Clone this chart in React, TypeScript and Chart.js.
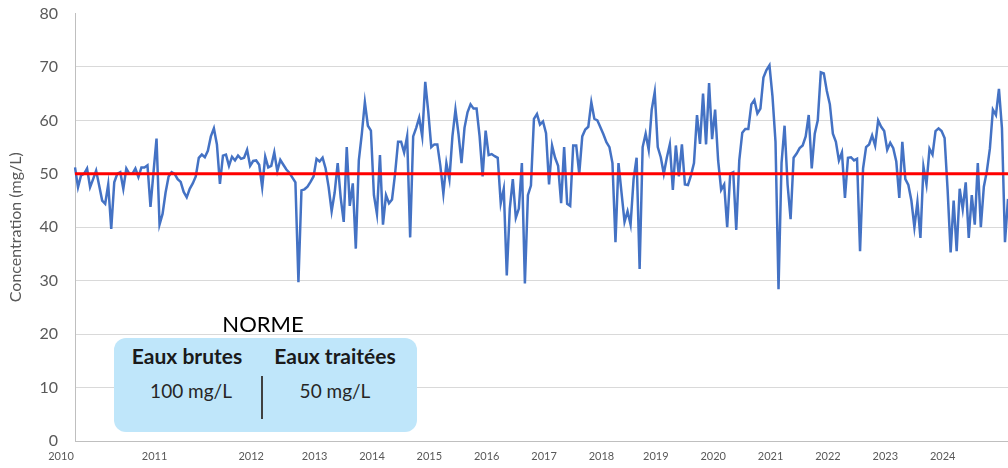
import React, { useEffect, useRef } from 'react';
import { Chart, registerables } from 'chart.js';

Chart.register(...registerables);

// ---- DATA ----
const years = ['2010', '2011', '2012', '2013', '2014', '2015', '2016', '2017', '2018', '2019', '2020', '2021', '2022', '2023', '2024'];

const y2010 = [51.2, 47.5, 49.7, 50, 51, 47.5, 49, 50.6, 47.8, 45, 44.4, 48, 39.7, 48.4, 50, 50.3, 47.2, 51, 50, 50, 51, 49.4, 51.2, 51.2, 51.6, 43.8, 50.3, 56.6, 40.5, 42.5, 46.5];
const y2011 = [49.5, 50.3, 50, 49, 48.5, 46.6, 45.6, 47.2, 48.2, 49.5, 53, 53.6, 53.1, 54.3, 57, 58.5, 55.5, 48.1, 53.4, 53.6, 51.5, 53.2, 52.5, 53.4, 52.8, 53, 54.5, 51.5, 52.4, 52.5, 51.7, 47.5];
const y2012 = [53.2, 51.2, 51.5, 54, 50.5, 52.6, 51.7, 50.8, 50.2, 49.3, 48.4, 29.7, 46.9, 47.1, 47.6, 48.5, 49.5, 52.8, 52.3, 53, 51];
const y2013 = [47.5, 43, 46.5, 52, 45.5, 41, 55, 44, 48.2, 36, 52.5, 57.5, 63.4, 59, 58.1, 46, 42.5, 53.5, 40.5];
const y2014 = [46, 44.5, 45.2, 50, 56, 56, 54, 57, 38.1, 57, 58.6, 60.5, 57, 67.2, 61.6, 55, 55.5, 55.5, 51.5];
const y2015 = [46.3, 52, 49, 57, 62, 57.5, 52, 58.6, 61.5, 63, 62.2, 62.2, 57, 49.5, 58.1, 53.5, 53.7, 53.3, 53];
const y2016 = [44.5, 47.2, 31, 43.5, 49, 41.8, 43.5, 52, 29.5, 46, 47.8, 60.3, 61.2, 59.2, 59.8, 57.6, 48, 55.3, 53];
const y2017 = [51.5, 44.5, 55, 44.4, 44, 55.3, 55.3, 50, 57, 58.3, 58.8, 63.4, 60.3, 60, 58.7, 57.4, 55.9, 55, 52];
const y2018 = [37.2, 52, 46.5, 41, 43, 40.5, 49, 53, 32.2, 55, 57.5, 54.5, 62, 65.3, 55, 53.1, 50, 53];
const y2019 = [55.5, 47, 55.3, 49.5, 55.5, 48, 47.9, 49.7, 52, 61, 55.6, 65, 55.5, 67, 56.5, 62, 52.5, 47, 48];
const y2020 = [40, 50, 50.3, 39.5, 52.5, 57.7, 58.4, 58.4, 63, 63.8, 61.3, 62.2, 68, 69.4, 70.3, 64.5, 56, 28.4, 52];
const y2021 = [59, 48, 41.5, 53, 53.8, 54.8, 55.3, 57, 61, 51, 57.5, 60, 69, 68.8, 65.5, 63, 57.5, 56, 52.5];
const y2022 = [54, 45.5, 53, 53.1, 52.5, 52.8, 35.5, 51, 55, 55.5, 57.2, 55.3, 60, 58.8, 58, 54.5, 55.8, 54.8, 52.3];
const y2023 = [45.5, 56, 49, 47.9, 45, 40, 44.7, 38, 51.3, 48, 54.7, 53.6, 58, 58.5, 58, 56.7, 47, 35.3, 45];
const y2024 = [35.5, 47.2, 43.4, 48.4, 38, 46, 40.5, 52, 40, 47.6, 50.5, 54.7, 62, 61, 65.9, 58.5, 37.2, 45.3];

const seriesByYear = [y2010, y2011, y2012, y2013, y2014, y2015, y2016, y2017, y2018, y2019, y2020, y2021, y2022, y2023, y2024];

const NORME_EAUX_TRAITEES = 50; // mg/L
const Y_MIN = 0;
const Y_MAX = 80;
const Y_STEP = 10;

const normeHeaders = ['Eaux brutes', 'Eaux traitées'];
const normeValues = ['100 mg/L', '50 mg/L'];

// Built from the arrays above
const values: number[] = seriesByYear.flat();
const labels: string[] = seriesByYear.flatMap((arr, k) => arr.map((_, j) => (j === 0 ? years[k] : '')));

const FONT = "Lato, 'Liberation Sans', sans-serif";

const normLinePlugin = {
  id: 'normLine',
  afterDatasetsDraw(chart: any) {
    const { ctx, chartArea, scales } = chart;
    const y = scales.y.getPixelForValue(NORME_EAUX_TRAITEES);
    ctx.save();
    ctx.strokeStyle = '#FF0000';
    ctx.lineWidth = 3;
    ctx.beginPath();
    ctx.moveTo(chartArea.left, y);
    ctx.lineTo(chartArea.right, y);
    ctx.stroke();
    ctx.restore();
  },
};

export default function App() {
  const canvasRef = useRef<HTMLCanvasElement | null>(null);

  useEffect(() => {
    document.body.style.margin = '0';
    const canvas = canvasRef.current;
    if (!canvas) return;
    const chart = new Chart(canvas, {
      type: 'line',
      data: {
        labels,
        datasets: [
          {
            label: 'Concentration',
            data: values,
            borderColor: '#4472C4',
            backgroundColor: '#4472C4',
            borderWidth: 2.5,
            pointRadius: 0,
            tension: 0,
            fill: false,
          },
        ],
      },
      options: {
        animation: false,
        responsive: true,
        maintainAspectRatio: false,
        layout: { padding: { top: 13.5, right: 0, bottom: 0, left: 0 } },
        plugins: {
          legend: { display: false },
          tooltip: { enabled: false },
        },
        scales: {
          x: {
            type: 'category',
            grid: { display: false, drawTicks: true, tickLength: 9, tickColor: 'rgba(0,0,0,0)' },
            border: { display: true, color: '#BFBFBF', width: 1 },
            ticks: {
              autoSkip: false,
              maxRotation: 0,
              minRotation: 0,
              padding: 0,
              labelOffset: -14,
              color: '#595959',
              font: { family: FONT, size: 11 },
            },
            afterFit(scale: any) {
              scale.height = 27;
            },
          },
          y: {
            min: Y_MIN,
            max: Y_MAX,
            ticks: {
              stepSize: Y_STEP,
              padding: 0,
              color: '#595959',
              font: { family: FONT, size: 16 },
            },
            grid: {
              drawTicks: true,
              tickLength: 17,
              tickColor: 'rgba(0,0,0,0)',
              lineWidth: 1,
              color: (c: any) => (c.tick && c.tick.value === Y_MAX ? 'rgba(0,0,0,0)' : '#D9D9D9'),
            },
            border: { display: true, color: '#BFBFBF', width: 1 },
            title: {
              display: true,
              text: 'Concentration (mg/L)',
              color: '#595959',
              font: { family: FONT, size: 16 },
              padding: { top: 6, bottom: 0 },
            },
            afterFit(scale: any) {
              scale.width = 75;
            },
          },
        },
      },
      plugins: [normLinePlugin],
    } as any);
    return () => {
      chart.destroy();
    };
  }, []);

  const headerStyle: React.CSSProperties = {
    position: 'absolute',
    width: 160,
    textAlign: 'center',
    fontFamily: FONT,
    fontWeight: 700,
    fontSize: 21,
    lineHeight: '21px',
    color: '#1A1A1A',
    whiteSpace: 'nowrap',
  };
  const valueStyle: React.CSSProperties = {
    position: 'absolute',
    width: 160,
    textAlign: 'center',
    fontFamily: FONT,
    fontSize: 19,
    lineHeight: '19px',
    color: '#262626',
    whiteSpace: 'nowrap',
  };

  return (
    <div style={{ position: 'relative', width: 1008, height: 468, background: '#FFFFFF', overflow: 'hidden' }}>
      <canvas ref={canvasRef} />
      <div
        style={{
          position: 'absolute',
          left: 183,
          top: 313,
          width: 160,
          textAlign: 'center',
          fontFamily: FONT,
          fontSize: 22,
          lineHeight: '22px',
          color: '#000000',
        }}
      >
        NORME
      </div>
      <div
        style={{
          position: 'absolute',
          left: 114,
          top: 338,
          width: 303,
          height: 94,
          borderRadius: 12,
          background: '#BFE6FA',
        }}
      />
      <div style={{ ...headerStyle, left: 187 - 80, top: 345 }}>{normeHeaders[0]}</div>
      <div style={{ ...headerStyle, left: 335 - 80, top: 345 }}>{normeHeaders[1]}</div>
      <div style={{ ...valueStyle, left: 191 - 80, top: 381 }}>{normeValues[0]}</div>
      <div style={{ ...valueStyle, left: 335 - 80, top: 381 }}>{normeValues[1]}</div>
      <div
        style={{
          position: 'absolute',
          left: 261,
          top: 376,
          width: 1.5,
          height: 43,
          background: '#404040',
        }}
      />
    </div>
  );
}
